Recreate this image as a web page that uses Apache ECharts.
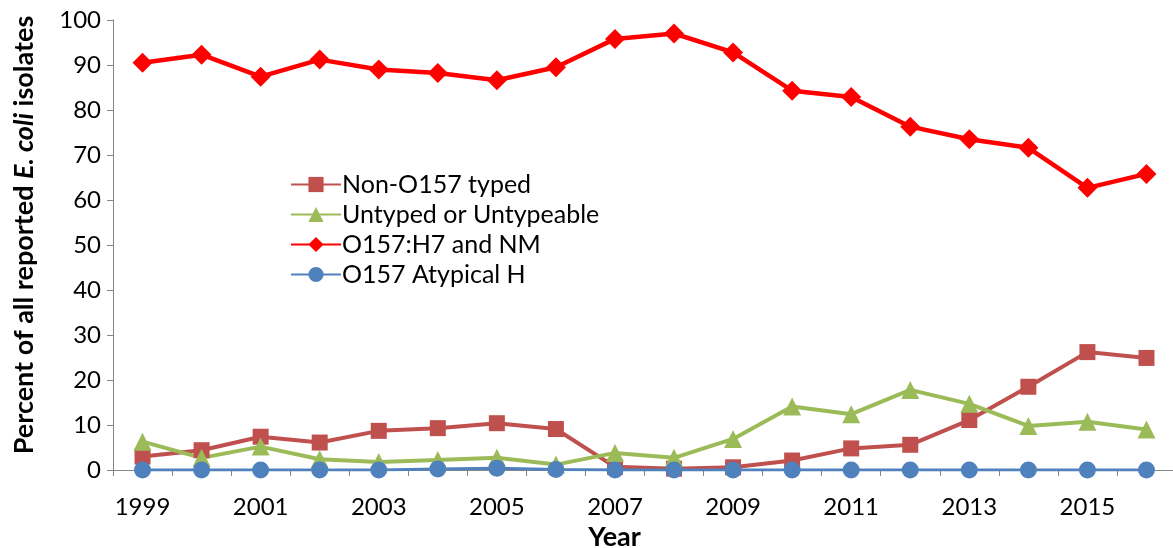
<!DOCTYPE html>
<html><head><meta charset="utf-8">
<script src="https://cdn.jsdelivr.net/npm/echarts@6/dist/echarts.min.js"></script>
<style>html,body{margin:0;padding:0;background:#fff}#c{width:1173px;height:548px}</style>
</head><body><div id="c"></div>
<script>
const years = ['1999','2000','2001','2002','2003','2004','2005','2006','2007','2008','2009','2010','2011','2012','2013','2014','2015','2016'];
const nonO157Typed = [3.0,4.4,7.4,6.1,8.7,9.3,10.4,9.1,0.7,0.3,0.6,2.1,4.8,5.6,11.1,18.5,26.2,24.9];
const untyped = [6.3,2.7,5.2,2.4,1.8,2.2,2.7,1.2,3.8,2.7,6.9,14.1,12.4,17.8,14.7,9.8,10.7,9.0];
const o157H7 = [90.5,92.3,87.4,91.2,89.0,88.2,86.6,89.5,95.8,97.0,92.8,84.3,82.9,76.3,73.5,71.6,62.7,65.8];
const o157Atypical = [0,0,0,0,0,0.2,0.4,0.1,0,0,0,0,0,0,0,0,0,0];
const seriesNames = ['Non-O157 typed','Untyped or Untypeable','O157:H7 and NM','O157 Atypical H'];

const FONT = 'Lato, "Open Sans", sans-serif';
const chart = echarts.init(document.getElementById('c'));
function s(name, data, color, symbol, size, width){
  return {name, type:'line', data, symbol, symbolSize:size, showSymbol:true,
    itemStyle:{color}, lineStyle:{color, width}, animation:false};
}
chart.setOption({
  animation:false,
  textStyle:{fontFamily:FONT},
  grid:{left:113, right:-3, top:20, bottom:78, containLabel:false, outerBoundsMode:'none'},
  legend:{orient:'vertical', left:285, top:167, itemWidth:50, itemHeight:19, itemGap:5,
    textStyle:{fontSize:25, color:'#000', fontFamily:FONT, lineHeight:25, padding:[0,0,0,-4]},
    data:seriesNames},
  xAxis:{type:'category', data:years, boundaryGap:true,
    name:'Year', nameLocation:'middle', nameGap:53,
    nameTextStyle:{fontSize:27, fontWeight:'bold', color:'#000', fontFamily:FONT, padding:[0,60,0,0]},
    axisLine:{lineStyle:{color:'#868686', width:1}},
    axisTick:{show:true, interval:0, length:6, lineStyle:{color:'#868686'}},
    axisLabel:{interval:1, fontSize:24, color:'#000', margin:25, fontFamily:FONT}},
  yAxis:{type:'value', min:0, max:100, interval:10,
    name:'{b|Percent of all reported }{bi|E. coli}{b| isolates}', nameLocation:'middle', nameGap:75, nameRotate:90,
    nameTextStyle:{padding:[0,0,0,20], rich:{b:{fontSize:27, fontWeight:'bold', color:'#000', fontFamily:FONT},
                         bi:{fontSize:27, fontWeight:'bold', fontStyle:'italic', color:'#000', fontFamily:FONT}}},
    axisLine:{show:true, lineStyle:{color:'#868686', width:1}},
    axisTick:{show:true, length:6, lineStyle:{color:'#868686'}},
    splitLine:{show:false},
    axisLabel:{fontSize:24, color:'#000', margin:12, fontFamily:FONT}},
  series:[
    s(seriesNames[0], nonO157Typed, '#C0504D', 'rect', 16, 4),
    s(seriesNames[1], untyped, '#9BBB59', 'triangle', 18, 4),
    s(seriesNames[2], o157H7, '#FF0000', 'diamond', 20, 4.5),
    s(seriesNames[3], o157Atypical, '#4F81BD', 'circle', 17, 3)
  ]
});
</script></body></html>
